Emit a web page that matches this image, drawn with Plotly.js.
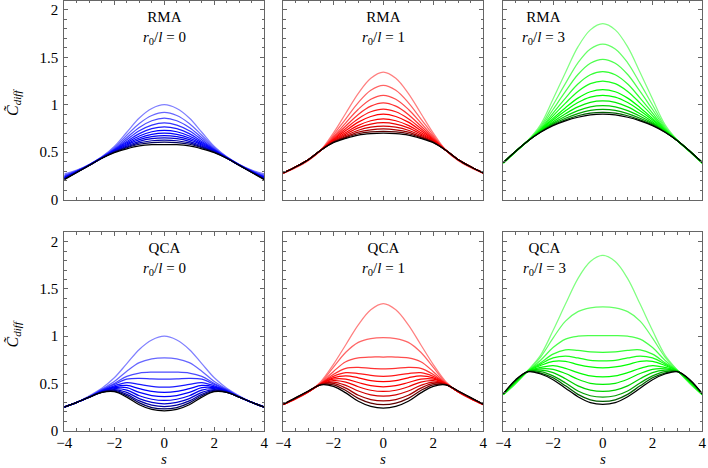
<!DOCTYPE html>
<html><head><meta charset="utf-8">
<script src="https://cdn.plot.ly/plotly-3.0.1.min.js"></script>
<style>html,body{margin:0;padding:0;background:#fff}#chart{width:708px;height:468px}</style>
</head><body><div id="chart"></div>
<script>
const s = [-4,-3.5,-3,-2.5,-2,-1.5,-1,-0.5,0,0.5,1,1.5,2,2.5,3,3.5,4];

const rma0 = [
[0.27,0.31,0.37,0.45,0.56,0.71,0.86,0.96,1.0,0.96,0.86,0.71,0.56,0.45,0.37,0.31,0.27],
[0.258,0.305,0.368,0.447,0.548,0.678,0.803,0.887,0.92,0.887,0.803,0.678,0.548,0.447,0.368,0.305,0.258],
[0.249,0.302,0.367,0.445,0.538,0.652,0.76,0.831,0.858,0.831,0.76,0.652,0.538,0.445,0.367,0.302,0.249],
[0.242,0.299,0.365,0.443,0.53,0.631,0.725,0.785,0.808,0.785,0.725,0.631,0.53,0.443,0.365,0.299,0.242],
[0.236,0.296,0.364,0.442,0.524,0.613,0.695,0.747,0.766,0.747,0.695,0.613,0.524,0.442,0.364,0.296,0.236],
[0.231,0.294,0.364,0.44,0.518,0.598,0.67,0.715,0.73,0.715,0.67,0.598,0.518,0.44,0.364,0.294,0.231],
[0.227,0.292,0.363,0.439,0.514,0.585,0.649,0.687,0.7,0.687,0.649,0.585,0.514,0.439,0.363,0.292,0.227],
[0.223,0.291,0.362,0.438,0.51,0.575,0.632,0.664,0.675,0.664,0.632,0.575,0.51,0.438,0.362,0.291,0.223],
[0.22,0.289,0.362,0.438,0.506,0.564,0.614,0.642,0.65,0.642,0.614,0.564,0.506,0.438,0.362,0.289,0.22],
[0.216,0.288,0.361,0.437,0.502,0.554,0.597,0.62,0.626,0.62,0.597,0.554,0.502,0.437,0.361,0.288,0.216],
[0.213,0.287,0.361,0.436,0.499,0.546,0.583,0.601,0.605,0.601,0.583,0.546,0.499,0.436,0.361,0.287,0.213],
[0.21,0.285,0.36,0.435,0.495,0.535,0.565,0.578,0.58,0.578,0.565,0.535,0.495,0.435,0.36,0.285,0.21]
];

const rma1 = [
[0.275,0.335,0.41,0.52,0.70,0.91,1.12,1.28,1.345,1.28,1.12,0.91,0.70,0.52,0.41,0.335,0.275],
[0.278,0.34,0.415,0.52,0.678,0.852,1.023,1.153,1.205,1.153,1.023,0.852,0.678,0.52,0.415,0.34,0.278],
[0.279,0.342,0.417,0.52,0.662,0.809,0.952,1.058,1.1,1.058,0.952,0.809,0.662,0.52,0.417,0.342,0.279],
[0.28,0.343,0.418,0.52,0.65,0.776,0.898,0.985,1.02,0.985,0.898,0.776,0.65,0.52,0.418,0.343,0.28],
[0.28,0.345,0.42,0.52,0.64,0.75,0.853,0.926,0.955,0.926,0.853,0.75,0.64,0.52,0.42,0.345,0.28],
[0.28,0.345,0.42,0.52,0.631,0.727,0.816,0.876,0.9,0.876,0.816,0.727,0.631,0.52,0.42,0.345,0.28],
[0.28,0.345,0.42,0.52,0.623,0.707,0.782,0.831,0.85,0.831,0.782,0.707,0.623,0.52,0.42,0.345,0.28],
[0.28,0.345,0.42,0.52,0.617,0.69,0.755,0.795,0.81,0.795,0.755,0.69,0.617,0.52,0.42,0.345,0.28],
[0.28,0.345,0.42,0.52,0.612,0.676,0.731,0.763,0.775,0.763,0.731,0.676,0.612,0.52,0.42,0.345,0.28],
[0.28,0.345,0.42,0.52,0.607,0.663,0.711,0.736,0.745,0.736,0.711,0.663,0.607,0.52,0.42,0.345,0.28],
[0.28,0.345,0.42,0.52,0.603,0.653,0.694,0.713,0.72,0.713,0.694,0.653,0.603,0.52,0.42,0.345,0.28],
[0.28,0.345,0.42,0.52,0.6,0.645,0.68,0.695,0.7,0.695,0.68,0.645,0.6,0.52,0.42,0.345,0.28]
];

const rma3 = [
[0.38,0.5,0.625,0.79,1.06,1.34,1.61,1.79,1.855,1.79,1.61,1.34,1.06,0.79,0.625,0.5,0.38],
[0.383,0.505,0.624,0.772,0.997,1.225,1.443,1.589,1.64,1.589,1.443,1.225,0.997,0.772,0.624,0.505,0.383],
[0.385,0.506,0.623,0.759,0.95,1.14,1.319,1.438,1.48,1.438,1.319,1.14,0.95,0.759,0.623,0.506,0.385],
[0.386,0.507,0.622,0.748,0.912,1.07,1.218,1.316,1.35,1.316,1.218,1.07,0.912,0.748,0.622,0.507,0.386],
[0.387,0.508,0.622,0.739,0.883,1.017,1.14,1.222,1.25,1.222,1.14,1.017,0.883,0.739,0.622,0.508,0.387],
[0.388,0.508,0.621,0.732,0.856,0.969,1.07,1.137,1.16,1.137,1.07,0.969,0.856,0.732,0.621,0.508,0.388],
[0.388,0.509,0.621,0.727,0.839,0.937,1.023,1.081,1.1,1.081,1.023,0.937,0.839,0.727,0.621,0.509,0.388],
[0.389,0.509,0.621,0.722,0.821,0.905,0.977,1.025,1.04,1.025,0.977,0.905,0.821,0.722,0.621,0.509,0.389],
[0.389,0.51,0.62,0.718,0.806,0.878,0.938,0.978,0.99,0.978,0.938,0.878,0.806,0.718,0.62,0.51,0.389],
[0.39,0.51,0.62,0.714,0.795,0.857,0.907,0.94,0.95,0.94,0.907,0.857,0.795,0.714,0.62,0.51,0.39],
[0.39,0.51,0.62,0.712,0.786,0.841,0.884,0.912,0.92,0.912,0.884,0.841,0.786,0.712,0.62,0.51,0.39],
[0.39,0.51,0.62,0.71,0.78,0.83,0.868,0.893,0.9,0.893,0.868,0.83,0.78,0.71,0.62,0.51,0.39]
];

const qca0 = [
[0.255,0.3,0.37,0.45,0.56,0.71,0.86,0.96,1.0,0.96,0.86,0.71,0.56,0.45,0.37,0.3,0.255],
[0.253,0.3,0.36,0.44,0.52,0.63,0.72,0.76,0.77,0.76,0.72,0.63,0.52,0.44,0.36,0.3,0.253],
[0.252,0.3,0.36,0.435,0.5,0.575,0.61,0.62,0.62,0.62,0.61,0.575,0.5,0.435,0.36,0.3,0.252],
[0.251,0.3,0.358,0.43,0.49,0.545,0.555,0.548,0.545,0.548,0.555,0.545,0.49,0.43,0.358,0.3,0.251],
[0.25,0.3,0.357,0.425,0.475,0.51,0.49,0.47,0.46,0.47,0.49,0.51,0.475,0.425,0.357,0.3,0.25],
[0.25,0.3,0.357,0.42,0.465,0.48,0.445,0.415,0.405,0.415,0.445,0.48,0.465,0.42,0.357,0.3,0.25],
[0.25,0.3,0.356,0.415,0.455,0.455,0.405,0.372,0.36,0.372,0.405,0.455,0.455,0.415,0.356,0.3,0.25],
[0.25,0.3,0.356,0.412,0.445,0.43,0.37,0.333,0.32,0.333,0.37,0.43,0.445,0.412,0.356,0.3,0.25],
[0.25,0.3,0.355,0.41,0.435,0.405,0.34,0.3,0.285,0.3,0.34,0.405,0.435,0.41,0.355,0.3,0.25],
[0.25,0.3,0.355,0.408,0.428,0.385,0.315,0.27,0.255,0.27,0.315,0.385,0.428,0.408,0.355,0.3,0.25],
[0.25,0.3,0.355,0.406,0.42,0.37,0.295,0.245,0.23,0.245,0.295,0.37,0.42,0.406,0.355,0.3,0.25],
[0.25,0.3,0.355,0.405,0.413,0.355,0.275,0.225,0.21,0.225,0.275,0.355,0.413,0.405,0.355,0.3,0.25]
];

const qca1 = [
[0.275,0.335,0.41,0.52,0.70,0.91,1.12,1.28,1.345,1.28,1.12,0.91,0.70,0.52,0.41,0.335,0.275],
[0.275,0.34,0.41,0.51,0.67,0.83,0.935,0.975,0.985,0.975,0.935,0.83,0.67,0.51,0.41,0.34,0.275],
[0.275,0.34,0.41,0.505,0.625,0.73,0.77,0.78,0.78,0.78,0.77,0.73,0.625,0.505,0.41,0.34,0.275],
[0.277,0.34,0.41,0.5,0.595,0.66,0.67,0.66,0.655,0.66,0.67,0.66,0.595,0.5,0.41,0.34,0.277],
[0.277,0.342,0.412,0.498,0.575,0.615,0.605,0.585,0.575,0.585,0.605,0.615,0.575,0.498,0.412,0.342,0.277],
[0.278,0.342,0.412,0.495,0.56,0.58,0.56,0.53,0.52,0.53,0.56,0.58,0.56,0.495,0.412,0.342,0.278],
[0.278,0.343,0.413,0.493,0.545,0.545,0.51,0.476,0.465,0.476,0.51,0.545,0.545,0.493,0.413,0.343,0.278],
[0.279,0.344,0.414,0.492,0.53,0.515,0.465,0.428,0.415,0.428,0.465,0.515,0.53,0.492,0.414,0.344,0.279],
[0.279,0.345,0.415,0.49,0.515,0.48,0.42,0.38,0.365,0.38,0.42,0.48,0.515,0.49,0.415,0.345,0.279],
[0.28,0.346,0.416,0.488,0.5,0.45,0.375,0.33,0.315,0.33,0.375,0.45,0.5,0.488,0.416,0.346,0.28],
[0.28,0.348,0.418,0.487,0.485,0.425,0.342,0.292,0.275,0.292,0.342,0.425,0.485,0.487,0.418,0.348,0.28],
[0.28,0.35,0.42,0.485,0.47,0.40,0.312,0.258,0.24,0.258,0.312,0.40,0.47,0.485,0.42,0.35,0.28]
];

const qca3 = [
[0.38,0.5,0.64,0.8,1.06,1.34,1.61,1.79,1.855,1.79,1.61,1.34,1.06,0.8,0.64,0.5,0.38],
[0.38,0.5,0.64,0.78,0.98,1.16,1.26,1.3,1.31,1.3,1.26,1.16,0.98,0.78,0.64,0.5,0.38],
[0.382,0.505,0.635,0.745,0.88,0.97,1.0,1.007,1.007,1.007,1.0,0.97,0.88,0.745,0.635,0.505,0.382],
[0.384,0.51,0.635,0.72,0.81,0.855,0.85,0.835,0.83,0.835,0.85,0.855,0.81,0.72,0.635,0.51,0.384],
[0.385,0.512,0.633,0.705,0.77,0.79,0.77,0.745,0.74,0.745,0.77,0.79,0.77,0.705,0.633,0.512,0.385],
[0.386,0.515,0.632,0.69,0.735,0.735,0.70,0.675,0.665,0.675,0.70,0.735,0.735,0.69,0.632,0.515,0.386],
[0.387,0.518,0.63,0.67,0.69,0.66,0.615,0.58,0.57,0.58,0.615,0.66,0.69,0.67,0.63,0.518,0.387],
[0.388,0.522,0.629,0.655,0.65,0.605,0.545,0.502,0.49,0.502,0.545,0.605,0.65,0.655,0.629,0.522,0.388],
[0.389,0.527,0.628,0.64,0.615,0.55,0.475,0.43,0.415,0.43,0.475,0.55,0.615,0.64,0.628,0.527,0.389],
[0.39,0.53,0.627,0.625,0.58,0.505,0.42,0.37,0.355,0.37,0.42,0.505,0.58,0.625,0.627,0.53,0.39],
[0.39,0.535,0.626,0.61,0.56,0.475,0.385,0.327,0.31,0.327,0.385,0.475,0.56,0.61,0.626,0.535,0.39],
[0.39,0.54,0.625,0.60,0.54,0.45,0.36,0.298,0.28,0.298,0.36,0.45,0.54,0.60,0.625,0.54,0.39]
];

const methods = ["RMA","RMA","RMA","QCA","QCA","QCA"];
const ratios = ["0","1","3","0","1","3"];

const W = 708, H = 468;
const FONT = "'Liberation Serif', 'DejaVu Serif', serif";
const AXC = "#666666";
const panels = [
  {data: rma0, base: [0,0,255], xd: [64.3,264.3], yd: [0.5,199.5], tx: 164.3},
  {data: rma1, base: [255,0,0], xd: [283.3,483.3], yd: [0.5,199.5], tx: 383.3},
  {data: rma3, base: [0,255,0], xd: [503.3,702.3], yd: [0.5,199.5], tx: 543.5},
  {data: qca0, base: [0,0,255], xd: [64.3,264.3], yd: [232.3,430.7], tx: 164.3},
  {data: qca1, base: [255,0,0], xd: [283.3,483.3], yd: [232.3,430.7], tx: 383.3},
  {data: qca3, base: [0,255,0], xd: [503.3,702.3], yd: [232.3,430.7], tx: 544.5}
];

function lineColor(base, i, n) {
  const f = i / (n - 1);
  let c;
  if (f <= 0.45) {
    const w = 0.5 * (1 - f / 0.45);
    c = base.map(v => Math.round(v * (1 - w) + 255 * w));
  } else {
    const k = Math.pow((f - 0.45) / 0.55, 2.5);
    c = base.map(v => Math.round(v * (1 - k)));
  }
  return `rgb(${c[0]},${c[1]},${c[2]})`;
}

const traces = [];
const layout = {
  width: W, height: H,
  margin: {l: 0, r: 0, t: 0, b: 0},
  paper_bgcolor: "#fff", plot_bgcolor: "#fff",
  showlegend: false,
  font: {family: FONT, size: 15, color: "#000"},
  annotations: []
};

panels.forEach((p, k) => {
  const idx = k + 1;
  const xa = idx === 1 ? "x" : "x" + idx;
  const ya = idx === 1 ? "y" : "y" + idx;
  const n = p.data.length;
  p.data.forEach((ys, i) => {
    traces.push({
      x: s, y: ys, type: "scatter", mode: "lines",
      xaxis: xa, yaxis: ya, hoverinfo: "skip",
      line: {color: lineColor(p.base, i, n), width: 1.25, shape: "spline", smoothing: 1}
    });
  });
  const bottom = k >= 3, left = (k % 3) === 0;
  layout["xaxis" + (idx === 1 ? "" : idx)] = {
    domain: [p.xd[0] / W, p.xd[1] / W], anchor: ya,
    range: [-4, 4], tick0: 0, dtick: 2, ticks: "inside", ticklen: 4, tickcolor: AXC, tickwidth: 1,
    showline: true, linecolor: AXC, linewidth: 1, mirror: "allticks",
    showgrid: false, zeroline: false, showticklabels: bottom, ticklabelstandoff: -2,
    tickfont: {family: FONT, size: 15, color: "#000"},
    minor: {dtick: 0.5, ticks: "inside", ticklen: 2.5, tickcolor: AXC, showgrid: false},
    fixedrange: true
  };
  layout["yaxis" + (idx === 1 ? "" : idx)] = {
    domain: [1 - p.yd[1] / H, 1 - p.yd[0] / H], anchor: xa,
    range: [0, 2.1], tick0: 0, dtick: 0.5, ticks: "inside", ticklen: 4, tickcolor: AXC, tickwidth: 1,
    showline: true, linecolor: AXC, linewidth: 1, mirror: "allticks",
    showgrid: false, zeroline: false, showticklabels: left, ticklabelstandoff: 2,
    tickfont: {family: FONT, size: 15, color: "#000"},
    minor: {dtick: 0.1, ticks: "inside", ticklen: 2.5, tickcolor: AXC, showgrid: false},
    fixedrange: true
  };
  const top = p.yd[0];
  layout.annotations.push({
    xref: "paper", yref: "paper", x: p.tx / W, y: 1 - (top + 27) / H,
    xanchor: "center", yanchor: "middle", showarrow: false, align: "center",
    text: methods[k] + "<br><i>r</i><sub>0</sub>/<i>l</i> = " + ratios[k],
    font: {family: FONT, size: 15, color: "#000"}
  });
  if (bottom) {
    layout.annotations.push({
      xref: "paper", yref: "paper", x: (p.xd[0] + p.xd[1]) / 2 / W, y: 0,
      xanchor: "center", yanchor: "bottom", showarrow: false, borderpad: 0,
      text: "<i>s</i>", font: {family: FONT, size: 15, color: "#000"}
    });
  }
  if (left) {
    layout.annotations.push({
      xref: "paper", yref: "paper", x: 13 / W, y: 1 - ((p.yd[0] + p.yd[1]) / 2 + 3) / H,
      xanchor: "center", yanchor: "middle", showarrow: false, textangle: -90,
      text: "<i>C̃</i><sub><i>diff</i></sub>", font: {family: FONT, size: 16, color: "#000"}
    });
  }
});

Plotly.newPlot("chart", traces, layout, {staticPlot: true, displayModeBar: false});
</script>
</body></html>
